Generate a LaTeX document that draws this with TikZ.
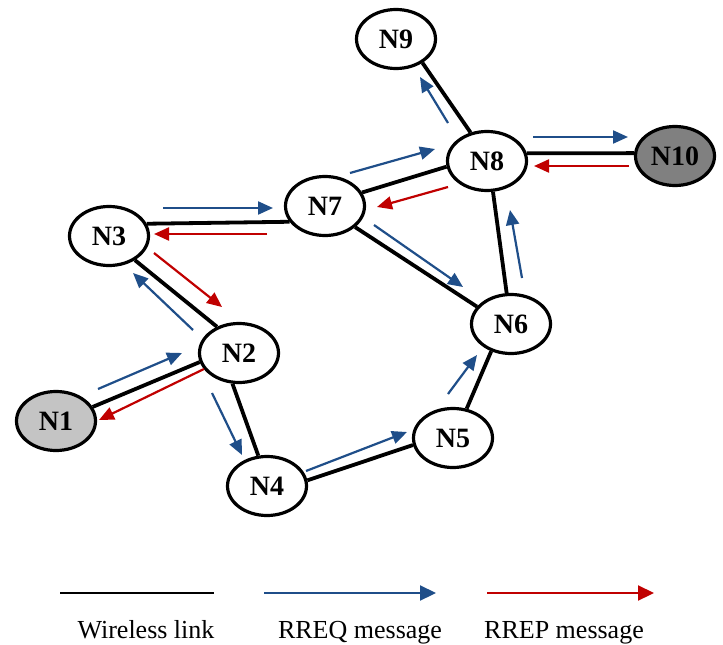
\documentclass[tikz,border=0pt]{standalone}
\usepackage{fontspec}
\setmainfont{Liberation Serif}
\usetikzlibrary{arrows.meta,shapes.geometric}
\definecolor{rreqblue}{HTML}{1F4E89}
\definecolor{rrepred}{HTML}{C00000}
\definecolor{srcgray}{HTML}{C4C4C4}
\definecolor{dstgray}{HTML}{808080}
\tikzset{
  hostnode/.style={
    ellipse,
    draw=black,
    line width=3.2pt,
    fill=white,
    minimum width=79pt,
    minimum height=59pt,
    inner sep=0pt,
    font=\fontsize{28}{30}\selectfont\bfseries
  },
  srcnode/.style={hostnode, fill=srcgray},
  dstnode/.style={hostnode, fill=dstgray},
  wlink/.style={line width=3.8pt, draw=black},
  rreq/.style={-{Triangle[length=15pt,width=13pt]}, line width=2.2pt, draw=rreqblue},
  rrep/.style={-{Triangle[length=15pt,width=13pt]}, line width=2.2pt, draw=rrepred},
  legendtext/.style={font=\fontsize{26}{28}\selectfont, anchor=base}
}
\begin{document}
\begin{tikzpicture}[x=1pt, y=-1pt]
  \useasboundingbox (0,0) rectangle (723,645);

  % hosts
  \node[srcnode] (N1) at (56,421) {N1};
  \node[hostnode] (N2) at (239,353) {N2};
  \node[hostnode] (N3) at (109,236) {N3};
  \node[hostnode] (N4) at (267,486) {N4};
  \node[hostnode] (N5) at (453,438) {N5};
  \node[hostnode] (N6) at (511,324) {N6};
  \node[hostnode] (N7) at (325,206) {N7};
  \node[hostnode] (N8) at (487,161) {N8};
  \node[hostnode] (N9) at (396,39) {N9};
  \node[dstnode] (N10) at (675,156) {N10};

  % wireless links
  \draw[wlink] (N1.21) -- (N2.193);
  \draw[wlink] (N2.130) -- (N3.317);
  \draw[wlink] (N2.258) -- (N4.106);
  \draw[wlink] (N3.18) -- (N7.204);
  \draw[wlink] (N7.20) -- (N8.188);
  \draw[wlink] (N7.325) -- (N6.153);
  \draw[wlink] (N8.281) -- (N6.98);
  \draw[wlink] (N8.11) -- (N10.176);
  \draw[wlink] (N8.120) -- (N9.318);
  \draw[wlink] (N6.234) -- (N5.65);
  \draw[wlink] (N5.190) -- (N4.8);

  % route request flooding
  \draw[rreq] ([shift={(42,-32)}]N1.center) -- ([shift={(-57,0)}]N2.center);
  \draw[rreq] ([shift={(-27,40)}]N2.center) -- ([shift={(-25,-31)}]N4.center);
  \draw[rreq] ([shift={(-46,-23)}]N2.center) -- ([shift={(24,37)}]N3.center);
  \draw[rreq] ([shift={(54,-28)}]N3.center) -- ([shift={(-52,2)}]N7.center);
  \draw[rreq] ([shift={(25,-33)}]N7.center) -- ([shift={(-52,-12)}]N8.center);
  \draw[rreq] ([shift={(-39,-38)}]N8.center) -- ([shift={(24,38)}]N9.center);
  \draw[rreq] ([shift={(46,-24)}]N8.center) -- ([shift={(-47,-19)}]N10.center);
  \draw[rreq] ([shift={(49,19)}]N7.center) -- ([shift={(-48,-37)}]N6.center);
  \draw[rreq] ([shift={(11,-46)}]N6.center) -- ([shift={(23,49)}]N8.center);
  \draw[rreq] ([shift={(39,-15)}]N4.center) -- ([shift={(-46,-6)}]N5.center);
  \draw[rreq] ([shift={(-5,-44)}]N5.center) -- ([shift={(-34,31)}]N6.center);

  % route reply back to the source
  \draw[rrep] ([shift={(-46,10)}]N10.center) -- ([shift={(47,5)}]N8.center);
  \draw[rrep] ([shift={(-39,26)}]N8.center) -- ([shift={(52,1)}]N7.center);
  \draw[rrep] ([shift={(-58,28)}]N7.center) -- ([shift={(45,-2)}]N3.center);
  \draw[rrep] ([shift={(45,17)}]N3.center) -- ([shift={(-17,-46)}]N2.center);
  \draw[rrep] ([shift={(-35,16)}]N2.center) -- ([shift={(43,-1)}]N1.center);

  % legend
  \coordinate (lk1) at (60,593);
  \coordinate (lk2) at (214,593);
  \coordinate (rq1) at (264,593);
  \coordinate (rq2) at (436,593);
  \coordinate (rp1) at (487,593);
  \coordinate (rp2) at (654,593);
  \draw[line width=2.6pt, draw=black] (lk1) -- (lk2);
  \draw[rreq, -{Triangle[length=16pt,width=15pt]}] (rq1) -- (rq2);
  \draw[rrep, -{Triangle[length=16pt,width=15pt]}] (rp1) -- (rp2);
  \node[legendtext] (lklabel) at (146,638) {Wireless link};
  \node[legendtext] (rqlabel) at (360,638) {RREQ message};
  \node[legendtext] (rplabel) at (564,638) {RREP message};
\end{tikzpicture}
\end{document}
